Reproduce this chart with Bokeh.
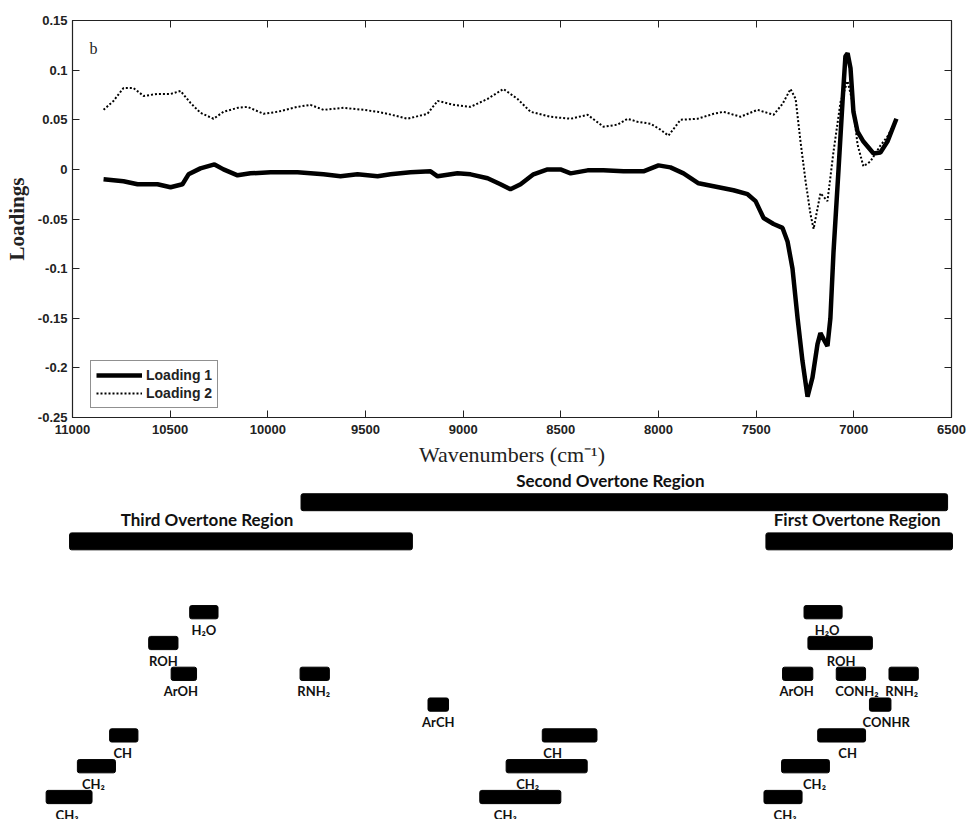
from bokeh.plotting import figure
from bokeh.layouts import column
from bokeh.models import (Range1d, FixedTicker, NumeralTickFormatter, LinearAxis,
                          Label, ColumnDataSource, CustomJSTickFormatter)
from bokeh.core.properties import value
from bokeh.embed import file_html
from bokeh.resources import INLINE

# ---------------- loadings (wavenumber, loading) ----------------
wn1 = [10841, 10739, 10667, 10565, 10498, 10437, 10406, 10345, 10273, 10227,
       10155, 10089, 9986, 9848, 9715, 9628, 9541, 9438, 9372, 9270,
       9167, 9131, 9029, 8962, 8875, 8809, 8758, 8706, 8640, 8568,
       8502, 8450, 8363, 8282, 8179, 8077, 8000, 7939, 7872, 7795,
       7718, 7616, 7544, 7503, 7462, 7411, 7365, 7339, 7314, 7288,
       7263, 7237, 7212, 7186, 7171, 7155, 7135, 7120, 7104, 7078,
       7058, 7043, 7032, 7017, 7002, 6981, 6951, 6899, 6864, 6828, 6782]
loading1 = [-0.010, -0.012, -0.015, -0.015, -0.018, -0.015, -0.005, 0.001, 0.005, 0.000,
            -0.006, -0.004, -0.003, -0.003, -0.005, -0.007, -0.005, -0.007, -0.005, -0.003,
            -0.002, -0.007, -0.004, -0.005, -0.009, -0.015, -0.020, -0.015, -0.005, 0.000,
            0.000, -0.004, -0.001, -0.001, -0.002, -0.002, 0.004, 0.002, -0.004, -0.014,
            -0.017, -0.021, -0.025, -0.032, -0.049, -0.055, -0.059, -0.073, -0.100, -0.150,
            -0.193, -0.229, -0.210, -0.176, -0.165, -0.171, -0.178, -0.150, -0.083, 0.001,
            0.068, 0.114, 0.117, 0.102, 0.058, 0.038, 0.028, 0.016, 0.017, 0.028, 0.051]

wn2 = [10841, 10790, 10739, 10688, 10636, 10565, 10498, 10447, 10396, 10345,
       10278, 10227, 10155, 10104, 10022, 9951, 9848, 9782, 9715, 9613,
       9510, 9438, 9387, 9285, 9183, 9131, 9049, 8962, 8875, 8794,
       8722, 8655, 8553, 8450, 8363, 8282, 8210, 8159, 8108, 8041,
       7990, 7949, 7887, 7800, 7718, 7667, 7580, 7493, 7411, 7365,
       7324, 7298, 7273, 7247, 7222, 7206, 7171, 7135, 7104, 7068,
       7032, 7007, 6981, 6951, 6915, 6864, 6828, 6782]
loading2 = [0.060, 0.069, 0.082, 0.082, 0.074, 0.076, 0.076, 0.079, 0.067, 0.057,
            0.051, 0.058, 0.062, 0.063, 0.056, 0.058, 0.063, 0.065, 0.060, 0.062,
            0.060, 0.058, 0.056, 0.051, 0.056, 0.069, 0.065, 0.063, 0.071, 0.081,
            0.071, 0.058, 0.053, 0.051, 0.055, 0.043, 0.045, 0.051, 0.048, 0.046,
            0.040, 0.034, 0.050, 0.051, 0.056, 0.058, 0.053, 0.060, 0.055, 0.066,
            0.081, 0.071, 0.028, -0.012, -0.045, -0.060, -0.024, -0.032, 0.018, 0.068,
            0.089, 0.068, 0.025, 0.003, 0.008, 0.024, 0.033, 0.050]

x_ticks = [11000, 10500, 10000, 9500, 9000, 8500, 8000, 7500, 7000, 6500]
y_ticks = [-0.25, -0.2, -0.15, -0.1, -0.05, 0, 0.05, 0.1, 0.15]

# ---------------- overtone regions (start, end wavenumber) ----------------
region_names = ["Second Overtone Region", "Third Overtone Region", "First Overtone Region"]
region_start = [9830, 11015, 7450]
region_end = [6520, 9260, 6495]
region_level = [9.57, 8.3, 8.3]

# ---------------- functional group bands ----------------
group_names = ["H\u2082O", "ROH", "ArOH", "RNH\u2082", "ArCH", "CH", "CH\u2082", "CH\u2083",
               "CH", "CH\u2082", "CH\u2083",
               "H\u2082O", "ROH", "ArOH", "CONH\u2082", "RNH\u2082", "CONHR", "CH", "CH\u2082", "CH\u2083"]
group_start = [10400, 10610, 10495, 9835, 9180, 10810, 10975, 11135,
               8595, 8780, 8915,
               7255, 7235, 7365, 7090, 6820, 6920, 7185, 7370, 7460]
group_end = [10255, 10460, 10365, 9685, 9075, 10665, 10780, 10900,
             8315, 8365, 8500,
             7060, 6905, 7210, 6940, 6670, 6810, 6940, 7125, 7265]
group_level = [6, 5, 4, 4, 3, 2, 1, 0,
               2, 1, 0,
               6, 5, 4, 4, 4, 3, 2, 1, 0]

# label nudges in screen pixels (styling only)
region_label_dx = [-14, -34, -2]
group_label_dx = [0, 0, -3, -1, 0, -1, -3, -2,
                  -17, -19, -15,
                  4, 1, -1, 6, -2, 6, 6, 9, 2]

# ---------------- layout constants ----------------
W = 968
TOP_H = 470
BOT_H = 819 - TOP_H
FRAME_L, FRAME_R = 72, 17
X_START, X_END = 11000, 6500
px_per_unit = (W - FRAME_L - FRAME_R) / (X_START - X_END)

SANS = "Liberation Sans"
SERIF = "Liberation Serif"
LBL = "Lato"

blank = CustomJSTickFormatter(code="return ''")

# ---------------- loadings plot ----------------
p = figure(width=W, height=TOP_H, output_backend="svg", toolbar_location=None,
           x_range=Range1d(X_START, X_END), y_range=Range1d(-0.25, 0.15),
           min_border_left=FRAME_L, min_border_right=FRAME_R,
           min_border_top=20, min_border_bottom=53)
p.frame_align = False
p.background_fill_color = "white"
p.border_fill_color = "white"
p.outline_line_color = "#222222"
p.outline_line_width = 1.2
p.xgrid.visible = False
p.ygrid.visible = False

p.line(wn1, loading1, line_color="black", line_width=4.5, legend_label="Loading 1")
p.line(wn2, loading2, line_color="black", line_width=2, line_dash="2 2",
       legend_label="Loading 2")

for ax in (p.xaxis[0], p.yaxis[0]):
    ax.major_tick_in = 7
    ax.major_tick_out = 0
    ax.minor_tick_in = 0
    ax.minor_tick_out = 0
    ax.axis_line_color = "#222222"
    ax.major_tick_line_color = "#222222"
    ax.major_label_text_font = SANS
    ax.major_label_text_font_style = "bold"
    ax.major_label_text_font_size = "13px"
    ax.major_label_text_color = "#222222"
    ax.axis_label_text_font = SERIF
    ax.axis_label_text_color = "#222222"

p.xaxis[0].ticker = FixedTicker(ticks=x_ticks)
p.xaxis[0].formatter = NumeralTickFormatter(format="0")
p.xaxis[0].major_label_standoff = 7
p.xaxis[0].axis_label = "Wavenumbers (cm\u207b\u00b9)"
p.xaxis[0].axis_label_text_font_style = "normal"
p.xaxis[0].axis_label_text_font_size = "22px"
p.xaxis[0].axis_label_standoff = 5

p.yaxis[0].ticker = FixedTicker(ticks=y_ticks)
p.yaxis[0].formatter = NumeralTickFormatter(format="0.[00]")
p.yaxis[0].major_label_standoff = 5
p.yaxis[0].axis_label = "Loadings"
p.yaxis[0].axis_label_text_font_style = "bold"
p.yaxis[0].axis_label_text_font_size = "21px"
p.yaxis[0].axis_label_standoff = 6

# mirrored tick marks on the top and right edges
top_ax = LinearAxis(ticker=FixedTicker(ticks=x_ticks), formatter=blank,
                    major_tick_in=7, major_tick_out=0,
                    minor_tick_in=0, minor_tick_out=0,
                    major_label_standoff=0, axis_line_color=None,
                    major_tick_line_color="#222222")
right_ax = LinearAxis(ticker=FixedTicker(ticks=y_ticks), formatter=blank,
                      major_tick_in=7, major_tick_out=0,
                      minor_tick_in=0, minor_tick_out=0,
                      major_label_standoff=0, axis_line_color=None,
                      major_tick_line_color="#222222")
p.add_layout(top_ax, "above")
p.add_layout(right_ax, "right")

p.add_layout(Label(x=10892, y=0.122, text="b", text_font=SERIF, text_font_size="16px",
                   text_color="#222222", text_align="center", text_baseline="alphabetic"))

lg = p.legend[0]
lg.location = (18, 9)
lg.margin = 0
lg.padding = 5
lg.spacing = 0
lg.glyph_width = 46
lg.glyph_height = 18
lg.label_height = 18
lg.label_standoff = 4
lg.label_text_font = SANS
lg.label_text_font_style = "bold"
lg.label_text_font_size = "14px"
lg.label_text_color = "#222222"
lg.border_line_color = "#222222"
lg.border_line_width = 1.2
lg.background_fill_color = "white"
lg.background_fill_alpha = 1

# ---------------- band assignment diagram ----------------
left_pad = FRAME_L / px_per_unit
right_pad = FRAME_R / px_per_unit
q = figure(width=W, height=BOT_H, output_backend="svg", toolbar_location=None,
           x_range=Range1d(X_START + left_pad, X_END - right_pad),
           y_range=Range1d(-0.73, 10.6),
           min_border=0, min_border_left=0, min_border_right=0,
           min_border_top=0, min_border_bottom=0,
           x_axis_location=None, y_axis_location=None)
q.frame_align = False
q.outline_line_color = None
q.xgrid.visible = False
q.ygrid.visible = False
q.background_fill_color = "white"
q.border_fill_color = "white"

REGION_H = 0.55
GROUP_H = 0.43

regions = ColumnDataSource(dict(
    name=region_names, start=region_start, end=region_end, level=region_level,
    mid=[(a + b) / 2 for a, b in zip(region_start, region_end)],
    top=[lv + REGION_H / 2 for lv in region_level],
    dx=region_label_dx))
groups = ColumnDataSource(dict(
    name=group_names, start=group_start, end=group_end, level=group_level,
    mid=[(a + b) / 2 for a, b in zip(group_start, group_end)],
    bottom=[lv - GROUP_H / 2 for lv in group_level],
    dx=group_label_dx))

q.hbar(y="level", left="start", right="end", height=REGION_H, source=regions,
       fill_color="black", line_color="black", border_radius=2)
q.text(x="mid", y="top", text="name", source=regions, x_offset="dx", y_offset=-3,
       text_align="center", text_baseline="bottom", text_font=value(LBL),
       text_font_style="bold", text_font_size="17px", text_color="#111111")

q.hbar(y="level", left="start", right="end", height=GROUP_H, source=groups,
       fill_color="black", line_color="black", border_radius=2)
q.text(x="mid", y="bottom", text="name", source=groups, x_offset="dx", y_offset=3,
       text_align="center", text_baseline="top", text_font=value(LBL),
       text_font_style="bold", text_font_size="13px", text_color="#111111")

layout = column(p, q, spacing=0)
open("out.html", "w").write(file_html(layout, INLINE))
